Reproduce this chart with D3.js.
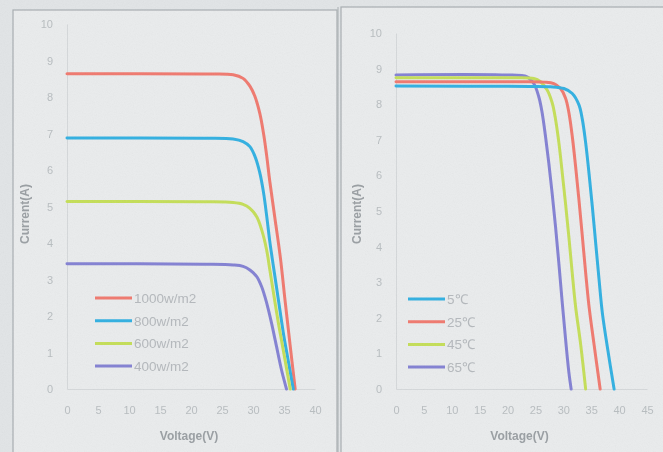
<!DOCTYPE html>
<html>
<head>
<meta charset="utf-8">
<script src="https://cdn.jsdelivr.net/npm/d3@7"></script>
<style>
    body { margin: 0; background: #e2e5e7; }
    svg { display: block; }
    .tick text { fill: #babfc2; font-family: "Liberation Sans", Arial, sans-serif; font-size: 11px; }
    .axis-title { fill: #9ca1a5; font-family: "Liberation Sans", Arial, sans-serif; font-size: 12px; font-weight: bold; }
    .legend-text { fill: #b6babe; font-family: "Liberation Sans", Arial, sans-serif; font-size: 13.5px; }
</style>
</head>
<body>
<div id="chart"></div>
<script>

// irradiance chart (left) - [voltage, current]
var irr1000 = [[0, 8.64], [22, 8.63], [26.8, 8.61], [28.4, 8.51], [29.5, 8.30], [30.3, 8.02], [31.1, 7.55], [31.7, 7.0],
    [32.2, 6.40], [32.7, 5.70], [33.5, 4.72], [34.4, 3.62], [35.2, 2.38], [36.0, 1.18], [36.8, 0]];
var irr800 = [[0, 6.88], [22, 6.87], [26.8, 6.85], [28.4, 6.78], [29.5, 6.64], [30.3, 6.38], [31.1, 5.92], [31.7, 5.38],
    [32.2, 4.75], [32.7, 4.05], [33.3, 3.35], [34.1, 2.44], [34.9, 1.53], [35.7, 0.76], [36.5, 0]];
var irr600 = [[0, 5.14], [22, 5.13], [26.8, 5.11], [28.4, 5.06], [29.5, 4.95], [30.6, 4.72], [31.4, 4.36], [32.2, 3.81],
    [32.7, 3.28], [33.3, 2.64], [34.1, 1.80], [34.9, 1.05], [36.0, 0]];
var irr400 = [[0, 3.43], [22, 3.42], [26.8, 3.40], [28.4, 3.36], [29.5, 3.26], [30.6, 3.08], [31.4, 2.80], [32.2, 2.36],
    [33.0, 1.80], [33.8, 1.16], [34.6, 0.52], [35.4, 0]];
var irrNames = ["1000w/m2", "800w/m2", "600w/m2", "400w/m2"];

// temperature chart (right)
var temp5 = [[0, 8.51], [24, 8.50], [27.7, 8.49], [30.1, 8.44], [31.6, 8.30], [32.8, 7.98], [33.4, 7.58], [34.0, 6.92],
    [34.6, 6.06], [35.2, 5.12], [35.8, 4.10], [36.4, 3.08], [37.0, 2.13], [37.9, 1.17], [39.1, 0]];
var temp25 = [[0, 8.63], [22, 8.63], [26.5, 8.62], [28.3, 8.58], [29.5, 8.44], [30.4, 8.17], [31.0, 7.76], [31.6, 7.10],
    [32.2, 6.25], [32.8, 5.31], [33.4, 4.30], [34.0, 3.27], [34.6, 2.33], [35.5, 1.26], [36.6, 0]];
var temp45 = [[0, 8.74], [20, 8.74], [24.7, 8.72], [25.9, 8.63], [27.1, 8.40], [28.0, 8.04], [28.6, 7.58], [29.2, 6.92],
    [29.8, 6.08], [30.4, 5.20], [31.0, 4.26], [31.6, 3.25], [32.2, 2.31], [33.1, 1.26], [34.0, 0]];
var temp65 = [[0, 8.82], [19, 8.82], [23.5, 8.77], [24.7, 8.58], [25.6, 8.21], [26.2, 7.76], [26.8, 7.10], [27.4, 6.34],
    [28.0, 5.49], [28.6, 4.56], [29.2, 3.53], [29.8, 2.43], [30.4, 1.40], [31.0, 0.46], [31.4, 0]];
var tempNames = ["5\u2103", "25\u2103", "45\u2103", "65\u2103"];

var yTicks = [0, 1, 2, 3, 4, 5, 6, 7, 8, 9, 10];
var xTicksLeft = [0, 5, 10, 15, 20, 25, 30, 35, 40];
var xTicksRight = [0, 5, 10, 15, 20, 25, 30, 35, 40, 45];

var svg = d3.select("#chart").append("svg")
    .attr("width", 663)
    .attr("height", 452);

// paper grain
var defs = svg.append("defs");
var noise = defs.append("filter").attr("id", "grain");
noise.append("feTurbulence").attr("type", "fractalNoise").attr("baseFrequency", 0.9).attr("numOctaves", 2).attr("seed", 3);
noise.append("feColorMatrix").attr("type", "saturate").attr("values", 0);

/*
 *  IVChart - draws one panel of current/voltage curves
 */
IVChart = function(_svg, _series, _names, _opts) {
    this.svg = _svg;
    this.series = _series;
    this.names = _names;
    this.opts = _opts;

    this.initVis();
};

IVChart.prototype.initVis = function() {
    var vis = this;
    var o = vis.opts;

    // panel frame
    vis.svg.append("rect")
        .attr("x", o.frame[0]).attr("y", o.frame[1])
        .attr("width", o.frame[2]).attr("height", o.frame[3])
        .attr("fill", "#eaeced")
        .attr("stroke", "#aab0b3")
        .attr("stroke-width", 1.2);

    vis.x = d3.scaleLinear().domain(o.xDomain).range([o.left, o.right]);
    vis.y = d3.scaleLinear().domain([0, 10]).range([o.bottom, o.top]);

    vis.xAxis = d3.axisBottom(vis.x).tickValues(o.xTicks).tickSize(0).tickPadding(17);
    vis.yAxis = d3.axisLeft(vis.y).tickValues(yTicks).tickSize(0).tickPadding(14);

    vis.gx = vis.svg.append("g")
        .attr("transform", "translate(0," + o.bottom + ")")
        .call(vis.xAxis);
    vis.gy = vis.svg.append("g")
        .attr("transform", "translate(" + o.left + ",0)")
        .call(vis.yAxis);

    vis.gx.select(".domain").attr("stroke", "#d6d9db");
    vis.gy.select(".domain").attr("stroke", "#d6d9db");

    vis.svg.append("text")
        .attr("class", "axis-title")
        .attr("x", (o.left + o.right) / 2 - 2)
        .attr("y", 440)
        .attr("text-anchor", "middle")
        .text("Voltage(V)");

    vis.svg.append("text")
        .attr("class", "axis-title")
        .attr("transform", "translate(" + o.yTitleX + ",214) rotate(-90)")
        .attr("text-anchor", "middle")
        .text("Current(A)");

    vis.updateVis();
};

IVChart.prototype.updateVis = function() {
    var vis = this;
    var o = vis.opts;

    var line = d3.line()
        .x(function(d) { return vis.x(d[0]); })
        .y(function(d) { return vis.y(d[1]); })
        .curve(d3.curveCatmullRom.alpha(0.5));

    vis.svg.selectAll(".iv-" + o.id)
        .data(vis.series)
        .enter().append("path")
        .attr("class", "iv-" + o.id)
        .attr("d", line)
        .attr("fill", "none")
        .attr("stroke", function(d, i) { return o.colors[i]; })
        .attr("stroke-width", 3)
        .attr("stroke-linecap", "round");

    // legend
    var leg = vis.svg.selectAll(".leg-" + o.id)
        .data(vis.names)
        .enter().append("g")
        .attr("class", "leg-" + o.id)
        .attr("transform", function(d, i) { return "translate(" + o.legX + "," + (o.legY + i * 22.7) + ")"; });

    leg.append("line")
        .attr("x1", 0).attr("x2", 37)
        .attr("stroke", function(d, i) { return o.legColors[i]; })
        .attr("stroke-width", 3);

    leg.append("text")
        .attr("class", "legend-text")
        .attr("x", 39)
        .attr("y", 5)
        .text(function(d) { return d; });
};

var red = "#f07c72", blue = "#36b2e2", green = "#c6df5c", purple = "#8684d4";

var leftChart = new IVChart(svg, [irr1000, irr800, irr600, irr400], irrNames, {
    id: "irr", frame: [13, 10, 324, 450], xDomain: [0, 40], xTicks: xTicksLeft,
    left: 67, right: 315, top: 24, bottom: 389, yTitleX: 29,
    colors: [red, blue, green, purple], legColors: [red, blue, green, purple], legX: 95, legY: 298
});

var rightChart = new IVChart(svg, [temp65, temp45, temp25, temp5], tempNames, {
    id: "temp", frame: [341, 7, 330, 453], xDomain: [0, 45], xTicks: xTicksRight,
    left: 396, right: 647, top: 33, bottom: 389, yTitleX: 361,
    colors: [purple, green, red, blue], legColors: [blue, red, green, purple], legX: 408, legY: 299
});

svg.append("line")
    .attr("x1", 338).attr("x2", 338).attr("y1", 7).attr("y2", 452)
    .attr("stroke", "#aab0b3").attr("stroke-width", 1);

svg.append("rect")
    .attr("width", 663).attr("height", 452)
    .attr("filter", "url(#grain)")
    .attr("opacity", 0.07)
    .style("mix-blend-mode", "multiply");

</script>
</body>
</html>
